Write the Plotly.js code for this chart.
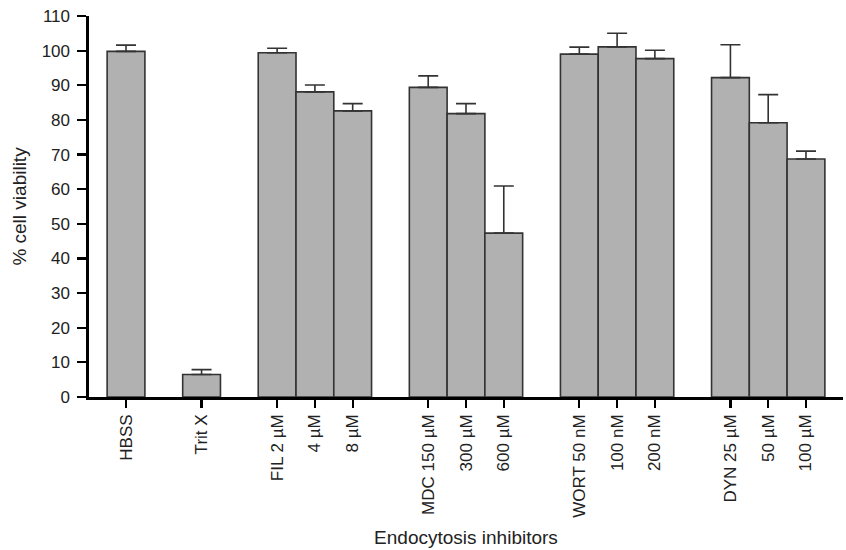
<!DOCTYPE html>
<html>
<head>
<meta charset="utf-8">
<script src="https://cdn.plot.ly/plotly-3.0.1.min.js"></script>
<style>html,body{margin:0;padding:0;background:#fff;}#chart{width:846px;height:550px;}</style>
</head>
<body>
<div id="chart"></div>
<script>
// Data
const categories = ["HBSS", "Trit X", "FIL 2 µM", "4 µM", "8 µM", "MDC 150 µM", "300 µM", "600 µM", "WORT 50 nM", "100 nM", "200 nM", "DYN 25 µM", "50 µM", "100 µM"];
const groupIndex = [0, 1, 2, 2, 2, 3, 3, 3, 4, 4, 4, 5, 5, 5];
const viability = [99.8, 6.5, 99.4, 88.1, 82.6, 89.4, 81.8, 47.3, 99.0, 101.1, 97.7, 92.2, 79.2, 68.7];
const errorUp = [1.8, 1.4, 1.3, 2.0, 2.1, 3.3, 2.9, 13.6, 2.0, 3.9, 2.4, 9.5, 8.1, 2.3];
const yTicks = [0, 10, 20, 30, 40, 50, 60, 70, 80, 90, 100, 110];

// Bars of one group touch; one empty slot separates groups
const xPos = categories.map((c, i) => i + groupIndex[i]);

const trace = {
  type: 'bar',
  x: xPos,
  y: viability,
  width: 1,
  marker: { color: '#b1b1b1', line: { color: '#333333', width: 1.6 } },
  error_y: {
    type: 'data', symmetric: false, array: errorUp,
    arrayminus: errorUp.map(() => 0),
    color: '#333333', thickness: 1.6, width: 10
  },
  hoverinfo: 'x+y'
};

const layout = {
  width: 846, height: 550,
  margin: { l: 89, r: 3, t: 16, b: 153 },
  paper_bgcolor: '#fff', plot_bgcolor: '#fff',
  font: { family: 'Liberation Sans, Arial, sans-serif', color: '#222' },
  showlegend: false,
  bargap: 0,
  xaxis: {
    range: [-0.98, 18.98],
    tickmode: 'array', tickvals: xPos, ticktext: categories,
    tickangle: -90,
    ticks: 'outside', ticklen: 8, tickwidth: 2.2, tickcolor: '#000',
    showline: true, linecolor: '#000', linewidth: 2.6,
    showgrid: false, zeroline: false,
    tickfont: { size: 17, color: '#222' },
    title: { text: 'Endocytosis inhibitors', font: { size: 19, color: '#222' }, standoff: 14 },
    automargin: false
  },
  yaxis: {
    range: [0, 110],
    tickmode: 'array', tickvals: yTicks,
    ticks: 'outside', ticklen: 9, tickwidth: 2.2, tickcolor: '#000',
    ticklabelstandoff: 4,
    showline: true, linecolor: '#000', linewidth: 2.6,
    showgrid: false, zeroline: false,
    tickfont: { size: 17, color: '#222' },
    title: { text: '% cell viability', font: { size: 19, color: '#222' }, standoff: 10 },
    automargin: false
  }
};

Plotly.newPlot('chart', [trace], layout, { staticPlot: true, displayModeBar: false });
</script>
</body>
</html>
